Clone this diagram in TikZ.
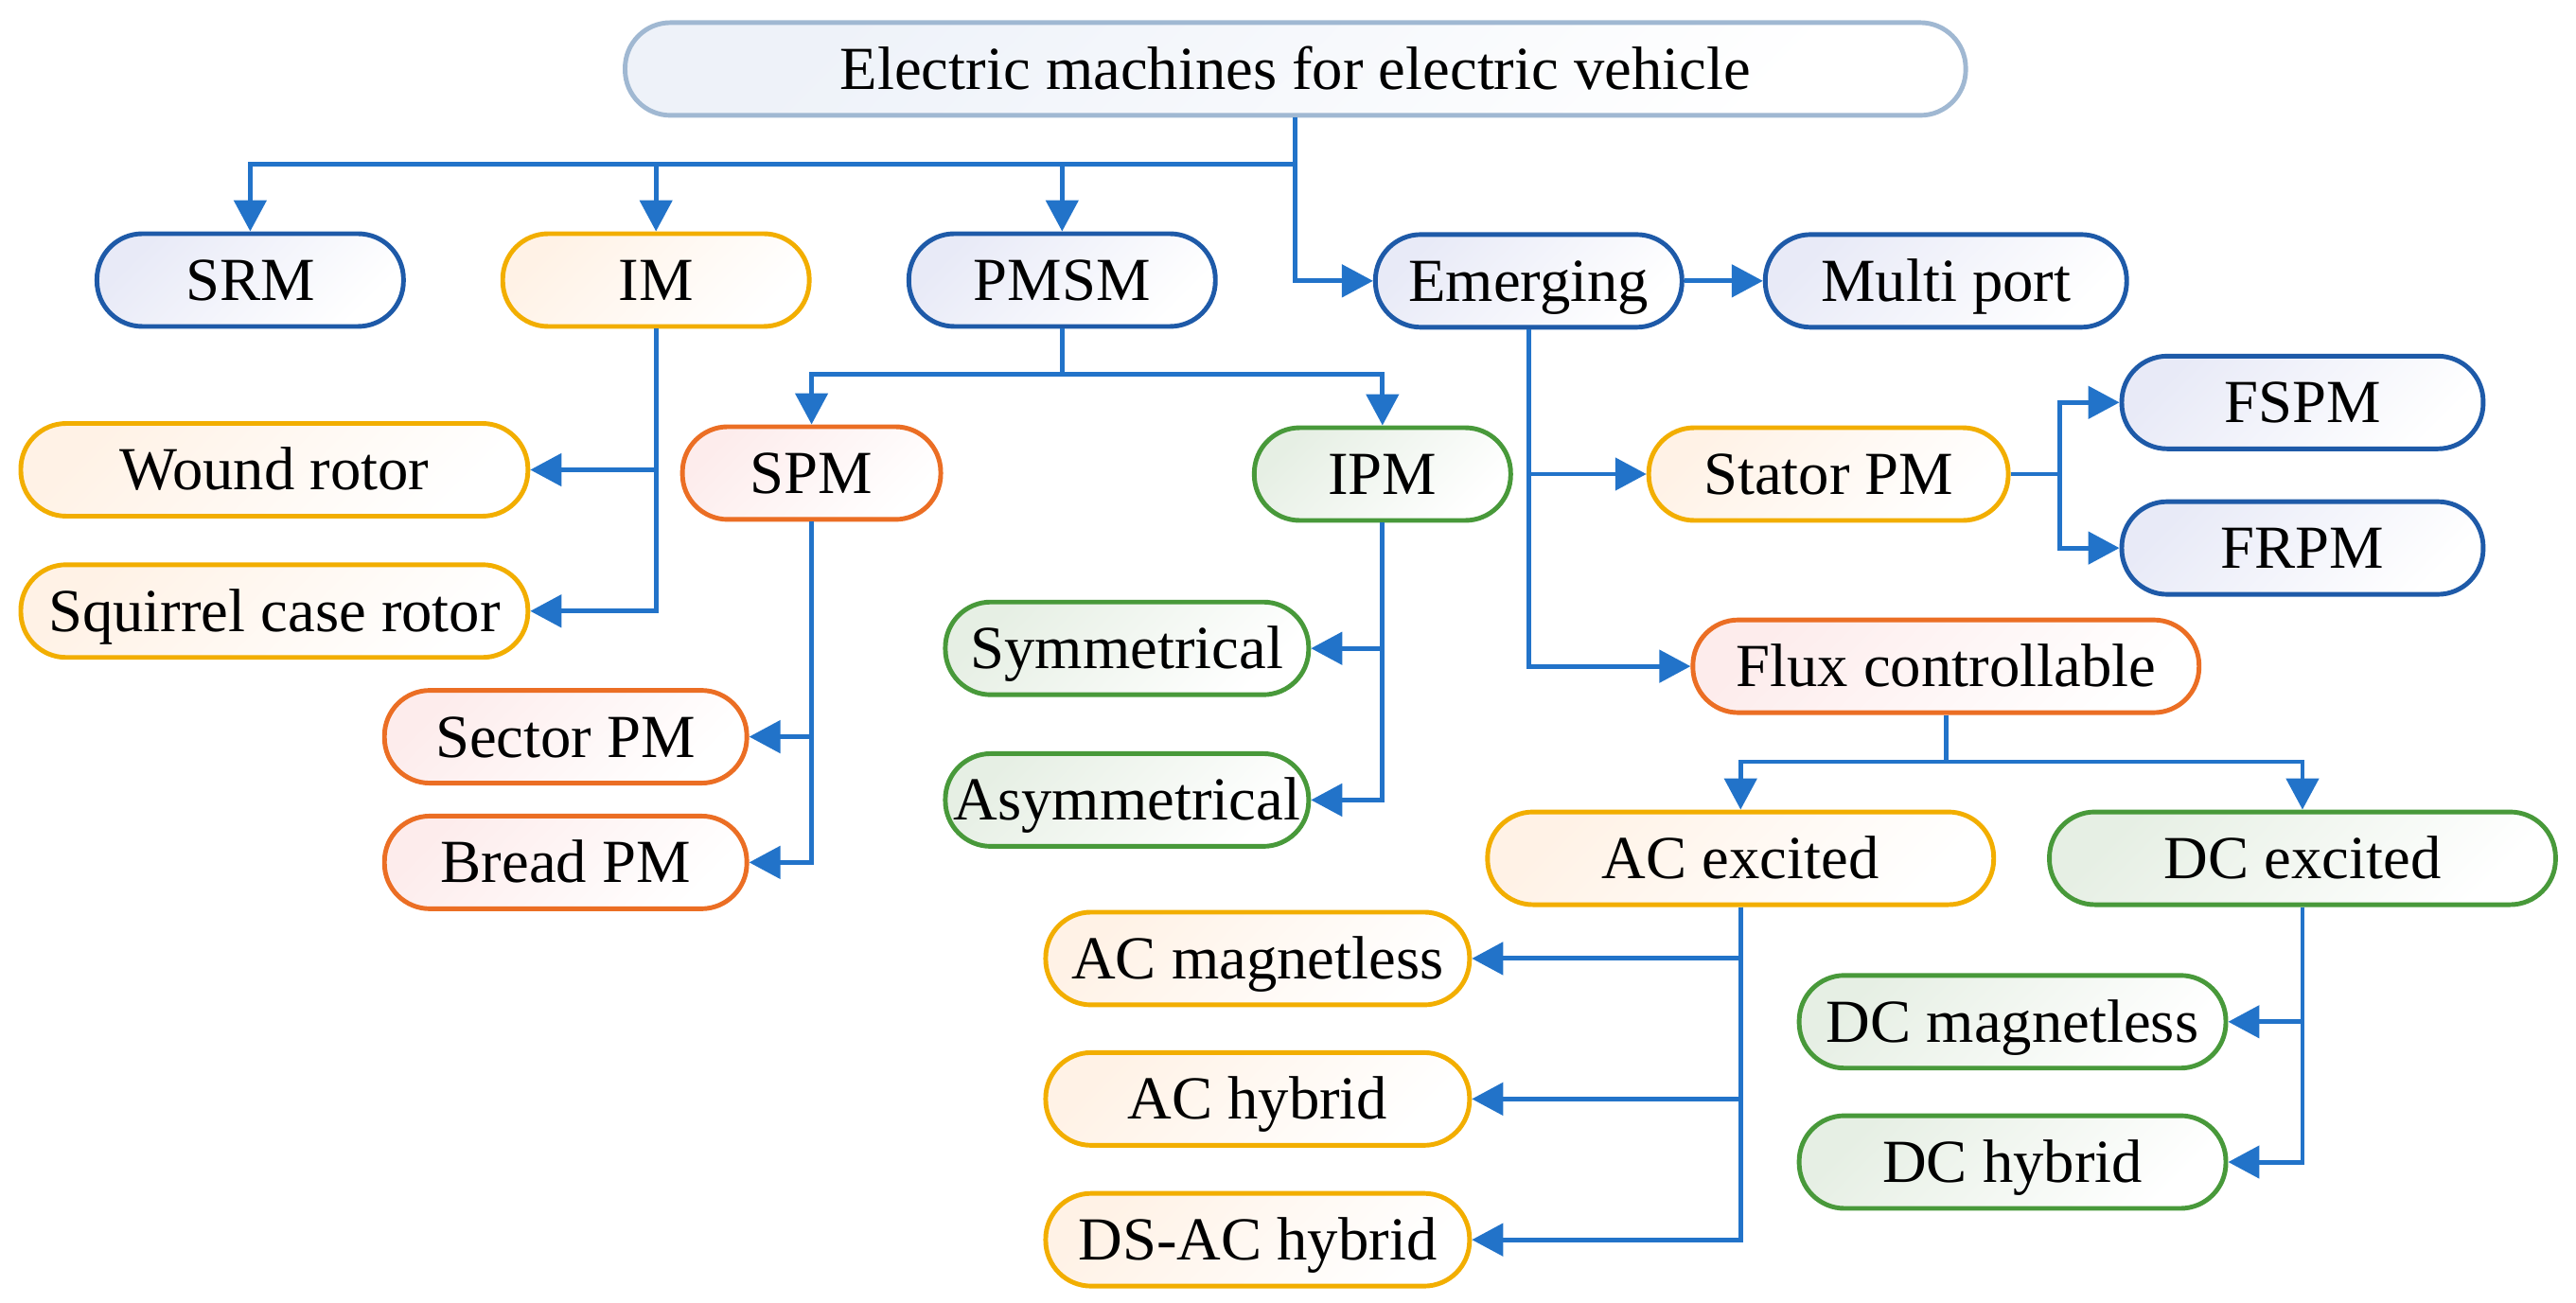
\documentclass[tikz,border=0pt]{standalone}
\usepackage{fontspec}
\setmainfont{Liberation Serif}
\usetikzlibrary{arrows.meta}
\definecolor{linkblue}{HTML}{2273C9}
\definecolor{tline}{HTML}{A0B8D2}
\definecolor{tfill}{HTML}{EEF2F9}
\definecolor{bline}{HTML}{1E5AA8}
\definecolor{bfill}{HTML}{E8EAF7}
\definecolor{yline}{HTML}{F2AE00}
\definecolor{yfill}{HTML}{FFF2E6}
\definecolor{oline}{HTML}{EB6E24}
\definecolor{ofill}{HTML}{FDECEC}
\definecolor{gline}{HTML}{48993A}
\definecolor{gfill}{HTML}{E6EFE4}
\begin{document}
\begin{tikzpicture}[x=0.01736cm, y=-0.01736cm,
    box/.style={draw=#1line, top color=#1fill, bottom color=white,
      shading angle=45, line width=1.4pt, rounded corners=0.48cm,
      minimum height=0.98cm, inner xsep=1pt,
      text height=12.2pt, text depth=0pt,
      font=\fontsize{18.4}{22}\selectfont},
    link/.style={draw=linkblue, line width=1.4pt},
    arr/.style={link, -{Triangle[length=0.33cm, width=0.34cm]}}]
  \useasboundingbox (0,0) rectangle (1568,793);
  % the boxes: {name/x/y/width/colour/text}
  \foreach \n/\x/\y/\w/\col/\t in {
      top/788.5/42/14.17/t/Electric machines for electric vehicle,
      srm/152.3/170.5/3.24/b/SRM,
      im/399.3/170.5/3.24/y/IM,
      pmsm/646.5/170.5/3.24/b/PMSM,
      emerg/930.5/171/3.24/b/Emerging,
      multi/1184.5/171/3.82/b/Multi port,
      wound/167/286/5.36/y/Wound rotor,
      squirrel/167/372/5.36/y/Squirrel case rotor,
      spm/494/288/2.73/o/SPM,
      ipm/841.5/288.6/2.71/g/IPM,
      stator/1113/288.6/3.80/y/Stator PM,
      fspm/1401.5/245/3.82/b/FSPM,
      frpm/1401.5/333.6/3.82/b/FRPM,
      sym/686/394.7/3.84/g/Symmetrical,
      asym/686/487/3.84/g/Asymmetrical,
      flux/1184.5/405.6/5.35/o/Flux controllable,
      sector/344.3/448.5/3.83/o/Sector PM,
      bread/344.3/525/3.83/o/Bread PM,
      acex/1059.5/522.5/5.35/y/AC excited,
      dcex/1401.5/522.5/5.35/g/DC excited,
      acmag/765.5/583.5/4.48/y/AC magnetless,
      achyb/765.5/669/4.48/y/AC hybrid,
      dsac/765.5/754.7/4.48/y/DS-AC hybrid,
      dcmag/1225/622/4.51/g/DC magnetless,
      dchyb/1225/707.4/4.51/g/DC hybrid}
    \node[box=\col, minimum width=\w cm] (\n) at (\x,\y) {\t};
  % bus points
  \coordinate (bus1) at (788.5,100);
  \coordinate (bus2) at (646.5,228);
  \coordinate (fork) at (1254,288.6);
  \coordinate (bus3) at (1184.5,463.7);
  % first level
  \draw[link] (top.south) -- (bus1);
  \foreach \n in {srm, im, pmsm}
    \draw[arr] (bus1) -| (\n.north);
  \draw[arr] (bus1) |- (emerg.west);
  \draw[arr] (emerg) -- (multi);
  % induction machines
  \foreach \n in {wound, squirrel}
    \draw[arr] (im.south) |- (\n.east);
  % PM synchronous machines
  \draw[link] (pmsm.south) -- (bus2);
  \foreach \n in {spm, ipm}
    \draw[arr] (bus2) -| (\n.north);
  \foreach \n in {sector, bread}
    \draw[arr] (spm.south) |- (\n.east);
  \foreach \n in {sym, asym}
    \draw[arr] (ipm.south) |- (\n.east);
  % emerging machines
  \foreach \n in {stator, flux}
    \draw[arr] (emerg.south) |- (\n.west);
  \draw[link] (stator.east) -- (fork);
  \foreach \n in {fspm, frpm}
    \draw[arr] (fork) |- (\n.west);
  \draw[link] (flux.south) -- (bus3);
  \foreach \n in {acex, dcex}
    \draw[arr] (bus3) -| (\n.north);
  \foreach \n in {acmag, achyb, dsac}
    \draw[arr] (acex.south) |- (\n.east);
  \foreach \n in {dcmag, dchyb}
    \draw[arr] (dcex.south) |- (\n.east);
\end{tikzpicture}
\end{document}
